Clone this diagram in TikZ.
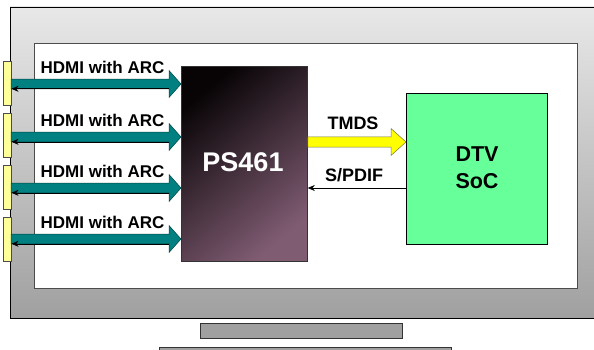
\documentclass[tikz,border=0pt]{standalone}
\usepackage{fontspec}
\setmainfont{Liberation Sans}
\usetikzlibrary{arrows.meta,calc}
\definecolor{tealA}{RGB}{0,128,128}
\definecolor{tealD}{RGB}{0,70,70}
\definecolor{psdark}{RGB}{8,4,6}
\definecolor{psmid}{RGB}{88,60,80}
\definecolor{pslight}{RGB}{128,92,115}
\definecolor{socgreen}{RGB}{102,255,153}
\definecolor{connyel}{RGB}{255,255,153}
\definecolor{tmdsyel}{RGB}{255,255,0}
\definecolor{framehi}{RGB}{232,232,232}
\definecolor{framelo}{RGB}{160,160,160}
\begin{document}
\begin{tikzpicture}[x=1pt,y=-1pt,
  lbl/.style={font=\fontsize{17}{20}\selectfont\bfseries, inner sep=0pt, anchor=center},
  connbox/.style={draw=black!70, line width=0.5pt, fill=connyel, minimum width=8pt, minimum height=44pt, inner sep=0pt, anchor=north west},
  standbar/.style={draw=black!80, line width=0.6pt, fill=framelo, inner sep=0pt, anchor=north west},
  hdmiarrow/.style={fill=tealA, draw=tealD, line width=0.5pt},
  thinarrow/.style={draw=black, line width=0.6pt, -{Stealth[length=7pt,width=6pt]}}]
\useasboundingbox (0,0) rectangle (594,350);
% TV frame
\path[top color=framehi, bottom color=framelo] (10,7) rectangle (600,318);
\draw[line width=0.8pt] (600,7) -- (10,7) -- (10,318) -- (600,318);
% screen
\node[draw=black!70, line width=1pt, fill=white, minimum width=543pt, minimum height=245pt, inner sep=0pt, anchor=north west] (screen) at (34,43) {};
% stand
\node[standbar, minimum width=202pt, minimum height=15pt] (bar1) at (200,323) {};
\node[standbar, minimum width=292pt, minimum height=12pt] (bar2) at (159,347) {};
% connectors
\node[connbox] (c1) at (2.5,61) {};
\node[connbox] (c2) at (2.5,113) {};
\node[connbox] (c3) at (2.5,165) {};
\node[connbox] (c4) at (2.5,217) {};
% PS461
\node[draw=black!80, line width=0.8pt, inner sep=0pt, minimum width=126pt, minimum height=195pt, anchor=north west,
  top color=psdark, middle color=psmid, bottom color=pslight, shading angle=40] (ps) at (181,66) {};
\node[text=white, font=\fontsize{27}{30}\selectfont\bfseries, inner sep=0pt] (pslabel) at (243,162) {PS461};
% DTV SoC
\node[draw=black, line width=0.8pt, fill=socgreen, minimum width=141pt, minimum height=151pt, inner sep=0pt, anchor=north west] (dtv) at (406,93) {};
\node[font=\fontsize{21.5}{27}\selectfont\bfseries, align=center, inner sep=0pt] (dtvlabel) at (477,168) {DTV\\SoC};
% HDMI arrows
\foreach \i/\yy in {1/84, 2/137, 3/188, 4/239} {
  \coordinate (s\i) at (c\i.east |- 0,\yy);
  \coordinate (e\i) at (ps.west |- 0,\yy);
  \draw[hdmiarrow] ($(s\i)+(0,-4.8)$) -- ($(e\i)+(-12,-4.8)$) -- ($(e\i)+(-12,-13.5)$) -- (e\i)
     -- ($(e\i)+(-12,13.5)$) -- ($(e\i)+(-12,4.8)$) -- ($(s\i)+(0,4.8)$) -- cycle;
  \draw[thinarrow] ($(e\i)+(-12,4.8)$) -- ($(s\i)+(0.5,4.8)$);
  \node[lbl] (h\i) at (102.5,\yy-17) {HDMI with ARC};
}
% TMDS arrow
\coordinate (ts) at (ps.east |- 0,142);
\coordinate (te) at (dtv.west |- 0,142);
\draw[fill=tmdsyel, draw=black!60!yellow, line width=0.5pt] ($(ts)+(0,-5)$) -- ($(te)+(-15,-5)$) -- ($(te)+(-15,-13.5)$) -- (te)
   -- ($(te)+(-15,13.5)$) -- ($(te)+(-15,5)$) -- ($(ts)+(0,5)$) -- cycle;
\node[lbl, font=\fontsize{18}{20}\selectfont\bfseries] (tmds) at (353,123) {TMDS};
% S/PDIF
\coordinate (ss) at (dtv.west |- 0,188);
\coordinate (se) at (ps.east |- 0,188);
\draw[thinarrow] (ss) -- (se);
\node[lbl, font=\fontsize{18}{20}\selectfont\bfseries] (spdif) at (354,175) {S/PDIF};
\end{tikzpicture}
\end{document}
